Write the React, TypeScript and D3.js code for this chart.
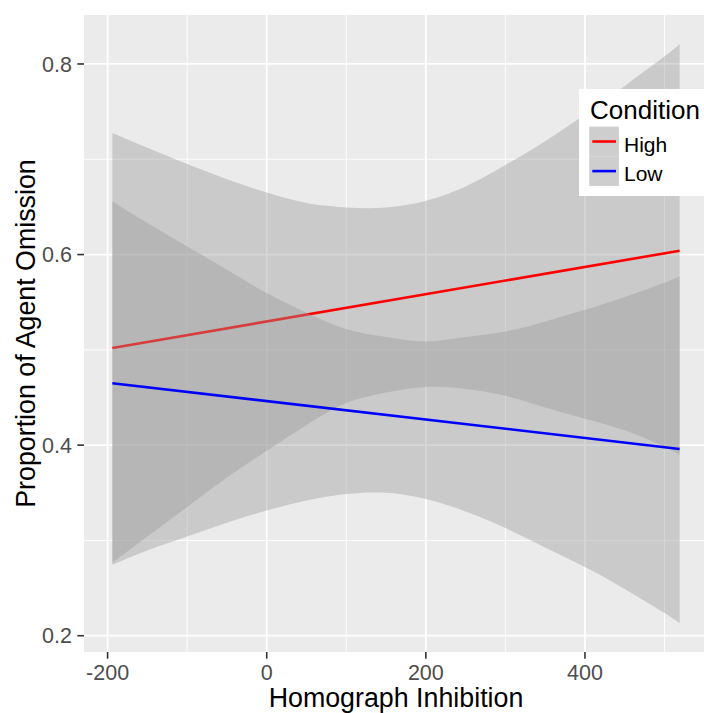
import React from "react";
import * as d3 from "d3";

// Fitted regression lines (Homograph Inhibition -> Proportion of Agent Omission)
const conditions = ["High", "Low"];
const lineColors = ["#FF0000", "#0000FF"];

const lineX = [-194, 519];
const highFit = [0.502, 0.604];
const lowFit = [0.465, 0.396];

// Confidence band edges sampled along the predictor
const bandX = [-194, -150, -100, -50, 0, 50, 100, 150, 200, 250, 300, 350, 400, 450, 500, 519];
const highUpper = [0.7275, 0.712, 0.695, 0.679, 0.665, 0.654, 0.6494, 0.6494, 0.6565, 0.6715, 0.694, 0.719, 0.747, 0.777, 0.808, 0.821];
const highLower = [0.2765, 0.304, 0.335, 0.366, 0.394, 0.421, 0.4442, 0.4553, 0.461, 0.459, 0.4518, 0.4395, 0.4277, 0.4155, 0.398, 0.39];
const lowUpper = [0.656, 0.633, 0.6085, 0.584, 0.5596, 0.539, 0.5218, 0.5134, 0.5088, 0.5134, 0.5193, 0.5298, 0.542, 0.5555, 0.5705, 0.577];
const lowLower = [0.2745, 0.2895, 0.304, 0.3185, 0.3315, 0.342, 0.3487, 0.35, 0.3434, 0.3304, 0.313, 0.2925, 0.272, 0.249, 0.2238, 0.2133];

const xTicks = [-200, 0, 200, 400];
const xMinor = [-100, 100, 300, 500];
const yTicks = [0.2, 0.4, 0.6, 0.8];
const yMinor = [0.3, 0.5, 0.7];

const W = 704;
const H = 713;
const plot = { left: 84, top: 15, width: 624, height: 637 };

const FONT = "'Liberation Sans', Arial, sans-serif";

function expand(lo: number, hi: number, f = 0.05): [number, number] {
  const d = (hi - lo) * f;
  return [lo - d, hi + d];
}

export default function App() {
  const xs = d3
    .scaleLinear()
    .domain(expand(d3.min(bandX)!, d3.max(bandX)!))
    .range([plot.left, plot.left + plot.width]);
  const allY = [...highUpper, ...highLower, ...lowUpper, ...lowLower];
  const ys = d3
    .scaleLinear()
    .domain(expand(d3.min(allY)!, d3.max(allY)!))
    .range([plot.top + plot.height, plot.top]);

  const band = (upper: number[], lower: number[]) =>
    d3
      .area<number>()
      .x((_, i) => xs(bandX[i]))
      .y0((_, i) => ys(lower[i]))
      .y1((_, i) => ys(upper[i]))
      .curve(d3.curveNatural)(bandX)!;

  const line = (vals: number[]) =>
    d3
      .line<number>()
      .x((_, i) => xs(lineX[i]))
      .y((v) => ys(v))(vals)!;

  const groups = [
    { upper: highUpper, lower: highLower, fit: highFit, color: lineColors[0] },
    { upper: lowUpper, lower: lowLower, fit: lowFit, color: lineColors[1] },
  ];

  const x0 = plot.left;
  const x1 = plot.left + plot.width;
  const y0 = plot.top;
  const y1 = plot.top + plot.height;

  const legendX = 579;
  const legendY = 89;

  return (
    <div style={{ position: "absolute", left: 0, top: 0 }}>
      <svg width={W} height={H} style={{ display: "block", background: "#FFFFFF" }}>
        <defs>
          <clipPath id="panel">
            <rect x={x0} y={y0} width={plot.width} height={plot.height} />
          </clipPath>
        </defs>
        <rect x={x0} y={y0} width={plot.width} height={plot.height} fill="#EBEBEB" />
        <g clipPath="url(#panel)">
          {xMinor.map((t) => (
            <line key={"xm" + t} x1={xs(t)} x2={xs(t)} y1={y0} y2={y1} stroke="#FFFFFF" strokeWidth={0.9} />
          ))}
          {yMinor.map((t) => (
            <line key={"ym" + t} x1={x0} x2={x1} y1={ys(t)} y2={ys(t)} stroke="#FFFFFF" strokeWidth={0.9} />
          ))}
          {xTicks.map((t) => (
            <line key={"xg" + t} x1={xs(t)} x2={xs(t)} y1={y0} y2={y1} stroke="#FFFFFF" strokeWidth={1.8} />
          ))}
          {yTicks.map((t) => (
            <line key={"yg" + t} x1={x0} x2={x1} y1={ys(t)} y2={ys(t)} stroke="#FFFFFF" strokeWidth={1.8} />
          ))}
          {groups.map((g, i) => (
            <g key={conditions[i]}>
              <path d={band(g.upper, g.lower)} fill="#999999" fillOpacity={0.4} />
              <path d={line(g.fit)} fill="none" stroke={g.color} strokeWidth={2.6} />
            </g>
          ))}
        </g>

        {/* y axis */}
        {yTicks.map((t) => (
          <g key={"yt" + t}>
            <line x1={x0 - 6.7} x2={x0} y1={ys(t)} y2={ys(t)} stroke="#333333" strokeWidth={1.6} />
            <text
              x={x0 - 12}
              y={ys(t)}
              dy="0.36em"
              textAnchor="end"
              fontFamily={FONT}
              fontSize={21.5}
              fill="#4D4D4D"
            >
              {d3.format(".1f")(t)}
            </text>
          </g>
        ))}
        {/* x axis */}
        {xTicks.map((t) => (
          <g key={"xt" + t}>
            <line x1={xs(t)} x2={xs(t)} y1={y1} y2={y1 + 6.7} stroke="#333333" strokeWidth={1.6} />
            <text
              x={xs(t)}
              y={y1 + 27.5}
              textAnchor="middle"
              fontFamily={FONT}
              fontSize={21.5}
              fill="#4D4D4D"
            >
              {t}
            </text>
          </g>
        ))}

        <text
          x={(x0 + x1) / 2}
          y={707}
          textAnchor="middle"
          fontFamily={FONT}
          fontSize={26.8}
          fill="#000000"
        >
          Homograph Inhibition
        </text>
        <text
          transform={`translate(35,${(y0 + y1) / 2}) rotate(-90)`}
          textAnchor="middle"
          fontFamily={FONT}
          fontSize={26.8}
          fill="#000000"
        >
          Proportion of Agent Omission
        </text>

        {/* legend */}
        <g>
          <rect x={legendX} y={legendY} width={140} height={107} fill="#FFFFFF" />
          <text x={legendX + 11} y={119.3} fontFamily={FONT} fontSize={26} fill="#000000">
            Condition
          </text>
          {conditions.map((c, i) => {
            const ky = 126.7 + i * 29.6;
            return (
              <g key={"lg" + c}>
                <rect x={589.3} y={ky} width={29.6} height={29.6} fill="#F2F2F2" />
                <rect x={589.3} y={ky} width={29.6} height={29.6} fill="#999999" fillOpacity={0.4} />
                <line
                  x1={592.3}
                  x2={616}
                  y1={ky + 14.8}
                  y2={ky + 14.8}
                  stroke={lineColors[i]}
                  strokeWidth={2.6}
                />
                <text x={624} y={ky + 25} fontFamily={FONT} fontSize={21} fill="#000000">
                  {c}
                </text>
              </g>
            );
          })}
        </g>
      </svg>
    </div>
  );
}
